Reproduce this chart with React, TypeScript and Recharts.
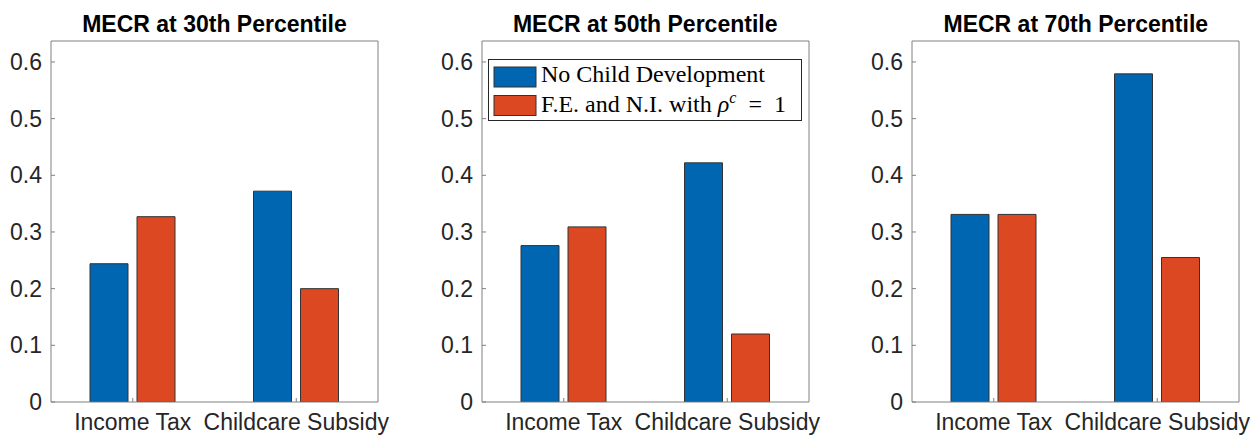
import React from 'react';
import { BarChart, Bar, XAxis, YAxis, Legend } from 'recharts';

const categories = ['Income Tax', 'Childcare Subsidy'];
const seriesNames = ['No Child Development', 'F.E. and N.I. with ρ^c = 1'];
const panelTitles = ['MECR at 30th Percentile', 'MECR at 50th Percentile', 'MECR at 70th Percentile'];

const noChildDev30 = [0.244, 0.372];
const feni30 = [0.327, 0.2];
const noChildDev50 = [0.276, 0.422];
const feni50 = [0.309, 0.12];
const noChildDev70 = [0.331, 0.579];
const feni70 = [0.331, 0.255];

const yTicks = [0, 0.1, 0.2, 0.3, 0.4, 0.5, 0.6];
const yMax = 0.637;

const BLUE = '#0066B2';
const RED = '#DB4822';
const AXIS = '#808080';
const TEXT = '#262626';
const SANS = '"Liberation Sans", Arial, Helvetica, sans-serif';
const SERIF = '"Liberation Serif", "Times New Roman", serif';

function renderName(name: string) {
  const idx = name.indexOf('ρ^c');
  if (idx < 0) return name;
  const before = name.slice(0, idx);
  const after = name.slice(idx + 3).trim();
  return (
    <>
      {before}
      <tspan fontStyle="italic">ρ</tspan>
      <tspan fontStyle="italic" fontSize={16} dy={-9}>c</tspan>
      <tspan fontSize={24} dy={9}>{'\u2002' + after.replace('= ', '=\u2002')}</tspan>
    </>
  );
}

const renderLegend = (props: any) => {
  const items = props.payload || [];
  return (
    <svg width={314} height={62} style={{ display: 'block' }}>
      <rect x={0.5} y={0.5} width={313} height={61} fill="#fff" stroke={TEXT} strokeWidth={1} />
      {items.map((it: any, i: number) => (
        <g key={i}>
          <rect x={6} y={8 + i * 28.5} width={42} height={20} fill={it.color} stroke="#333" strokeWidth={1} />
          <text x={53} y={23 + i * 29.5} fontFamily={SERIF} fontSize={24} fill="#000">
            {renderName(String(it.value))}
          </text>
        </g>
      ))}
    </svg>
  );
};

function Panel({ left, title, a, b, showLegend }: { left: number; title: string; a: number[]; b: number[]; showLegend: boolean }) {
  const data = categories.map((c, i) => ({ category: c, a: a[i], b: b[i] }));
  return (
    <div style={{ position: 'absolute', left, top: 0, width: 420, height: 435 }}>
      <div
        style={{
          position: 'absolute',
          left: 51,
          width: 327,
          top: 13,
          textAlign: 'center',
          fontFamily: SANS,
          fontWeight: 'bold',
          fontSize: 23,
          lineHeight: '23px',
          color: '#000',
          whiteSpace: 'nowrap',
        }}
      >
        {title}
      </div>
      <BarChart
        width={420}
        height={435}
        data={data}
        margin={{ top: 40, right: 32, bottom: 3, left: 6 }}
        barSize={38}
        barGap={9}
      >
        <XAxis
          dataKey="category"
          xAxisId="bottom"
          height={30}
          interval={0}
          tickSize={-4}
          tickMargin={16}
          axisLine={{ stroke: AXIS }}
          tickLine={{ stroke: AXIS }}
          tick={{ fill: TEXT, fontSize: 23, fontFamily: SANS }}
        />
        <XAxis
          dataKey="category"
          xAxisId="top"
          orientation="top"
          height={1}
          interval={0}
          tickSize={-4}
          axisLine={{ stroke: AXIS }}
          tickLine={{ stroke: AXIS }}
          tick={false}
        />
        <YAxis
          yAxisId="left"
          width={45}
          type="number"
          domain={[0, yMax]}
          ticks={yTicks}
          interval={0}
          allowDataOverflow
          tickSize={-4}
          tickMargin={13}
          axisLine={{ stroke: AXIS }}
          tickLine={{ stroke: AXIS }}
          tick={{ fill: TEXT, fontSize: 23, fontFamily: SANS }}
        />
        <YAxis
          yAxisId="right"
          orientation="right"
          width={10}
          type="number"
          domain={[0, yMax]}
          ticks={yTicks}
          interval={0}
          allowDataOverflow
          tickSize={-4}
          axisLine={{ stroke: AXIS }}
          tickLine={{ stroke: AXIS }}
          tick={false}
        />
        <Bar dataKey="a" name={seriesNames[0]} xAxisId="bottom" yAxisId="left" fill={BLUE} stroke="#333" strokeWidth={1} isAnimationActive={false} />
        <Bar dataKey="b" name={seriesNames[1]} xAxisId="bottom" yAxisId="left" fill={RED} stroke="#333" strokeWidth={1} isAnimationActive={false} />
        {showLegend && (
          <Legend
            layout="vertical"
            align="center"
            verticalAlign="middle"
            itemSorter="dataKey"
            content={renderLegend}
            wrapperStyle={{ left: 57, top: 59, width: 314, height: 62 }}
          />
        )}
      </BarChart>
    </div>
  );
}

export default function App() {
  return (
    <div style={{ position: 'absolute', left: 0, top: 0, width: 1250, height: 435, overflow: 'hidden', background: '#fff' }}>
      <Panel left={0} title={panelTitles[0]} a={noChildDev30} b={feni30} showLegend={false} />
      <Panel left={430.7} title={panelTitles[1]} a={noChildDev50} b={feni50} showLegend={true} />
      <Panel left={861.3} title={panelTitles[2]} a={noChildDev70} b={feni70} showLegend={false} />
    </div>
  );
}
